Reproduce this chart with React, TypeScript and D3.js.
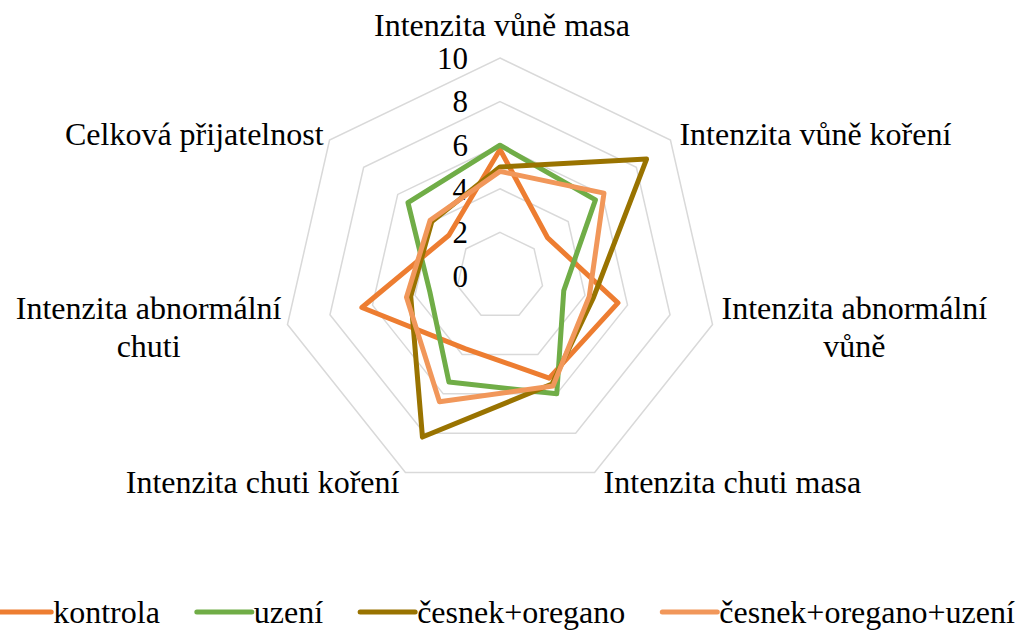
import { useEffect, useRef } from "react";
import * as d3 from "d3";

// axis categories (wrapped the way the original label boxes wrap)
const categories = [
  ["Intenzita vůně masa"],
  ["Intenzita vůně koření"],
  ["Intenzita abnormální", "vůně"],
  ["Intenzita chuti masa"],
  ["Intenzita chuti koření"],
  ["Intenzita abnormální", "chuti"],
  ["Celková přijatelnost"],
];

const seriesNames = ["kontrola", "uzení", "česnek+oregano", "česnek+oregano+uzení"];
const seriesColors = ["#ED7D31", "#70AD47", "#997300", "#F1975A"];

const kontrola = [5.8, 2.8, 5.55, 5.2, 3.7, 6.5, 3.0];
const uzeni = [6.0, 5.6, 3.0, 6.0, 5.4, 3.3, 5.4];
const cesnekOregano = [5.0, 8.6, 4.4, 5.5, 8.2, 4.2, 4.0];
const cesnekOreganoUzeni = [4.8, 6.1, 4.2, 5.6, 6.4, 4.4, 4.1];

const tickValues = [0, 2, 4, 6, 8, 10];

const FONT = "'Liberation Serif', 'Times New Roman', serif";

export default function App() {
  const svgRef = useRef<SVGSVGElement>(null);

  useEffect(() => {
    if (!svgRef.current) return;
    const width = 1019;
    const height = 630;
    const cx = 500;
    const cy = 276;
    const R = 218;

    const svg = d3.select(svgRef.current);
    svg.selectAll("*").remove();

    const n = categories.length;
    const r = d3.scaleLinear().domain([0, 10]).range([0, R]);
    const angle = d3.scaleLinear().domain([0, n]).range([0, 2 * Math.PI]);

    const g = svg.append("g").attr("transform", `translate(${cx},${cy})`);

    // grid heptagons
    const gridLine = d3.lineRadial<number>()
      .angle((_, i) => angle(i))
      .radius(d => r(d))
      .curve(d3.curveLinearClosed);

    g.append("g")
      .selectAll("path")
      .data(tickValues.filter(t => t > 0))
      .enter()
      .append("path")
      .attr("d", t => gridLine(d3.range(n).map(() => t)))
      .attr("fill", "none")
      .attr("stroke", "#D9D9D9")
      .attr("stroke-width", 1.5);

    // tick labels
    g.append("g")
      .selectAll("text")
      .data(tickValues)
      .enter()
      .append("text")
      .attr("x", -32)
      .attr("y", t => -r(t))
      .attr("dy", "0.35em")
      .attr("text-anchor", "end")
      .attr("font-family", FONT)
      .attr("font-size", 31)
      .attr("fill", "#000")
      .text(t => t);

    // series
    const allSeries = [kontrola, uzeni, cesnekOregano, cesnekOreganoUzeni];
    const seriesLine = d3.lineRadial<number>()
      .angle((_, i) => angle(i))
      .radius(d => r(d))
      .curve(d3.curveLinearClosed);

    g.append("g")
      .selectAll("path")
      .data(allSeries)
      .enter()
      .append("path")
      .attr("d", d => seriesLine(d))
      .attr("fill", "none")
      .attr("stroke", (_, i) => seriesColors[i])
      .attr("stroke-width", 5)
      .attr("stroke-linejoin", "round");

    // category labels
    const labelSize = 32;
    const lineGap = 38;
    categories.forEach((lines, i) => {
      const a = angle(i);
      const dx = Math.sin(a);
      const dy = -Math.cos(a);
      const vx = dx * r(10);
      const vy = dy * r(10);

      const t = g.append("text")
        .attr("font-family", FONT)
        .attr("font-size", labelSize)
        .attr("fill", "#000")
        .attr("text-anchor", "middle");
      const spans = lines.map(l => t.append("tspan").text(l));
      const widths = spans.map(s => (s.node() as SVGTSpanElement).getComputedTextLength());
      const blockW = d3.max(widths) as number;

      let midX: number;
      let midY: number;
      if (Math.abs(dx) < 0.1) {
        midX = vx + 2;
        midY = vy - 33;
      } else if (dx > 0) {
        midX = vx + 9 + blockW / 2;
        midY = vy + 10 * dy;
      } else {
        midX = vx - 6 - blockW / 2;
        midY = vy + 10 * dy;
      }
      const firstY = midY - ((lines.length - 1) * lineGap) / 2;
      spans.forEach((s, j) => {
        s.attr("x", midX).attr("y", firstY + j * lineGap).attr("dy", "0.35em");
      });
    });

    // legend
    const legendY = 612;
    const lineLen = 55;
    const items = svg.append("g");
    const widths: number[] = [];
    const texts = seriesNames.map(name => {
      const t = items.append("text")
        .attr("font-family", FONT)
        .attr("font-size", 32)
        .attr("fill", "#000")
        .attr("dy", "0.35em")
        .attr("y", legendY)
        .text(name);
      widths.push((t.node() as SVGTextElement).getComputedTextLength());
      return t;
    });
    const itemGap = 37;
    const total = d3.sum(widths) + seriesNames.length * (lineLen + 2) + (seriesNames.length - 1) * itemGap;
    let x = 505.5 - total / 2;
    texts.forEach((t, i) => {
      items.append("line")
        .attr("x1", x)
        .attr("x2", x + lineLen)
        .attr("y1", legendY)
        .attr("y2", legendY)
        .attr("stroke", seriesColors[i])
        .attr("stroke-width", 5)
        .attr("stroke-linecap", "round");
      t.attr("x", x + lineLen + 2);
      x += lineLen + 2 + widths[i] + itemGap;
    });

    svg.attr("width", width).attr("height", height);
  }, []);

  return (
    <svg
      ref={svgRef}
      width={1019}
      height={630}
      style={{ position: "absolute", left: 0, top: 0, background: "#fff" }}
    />
  );
}
